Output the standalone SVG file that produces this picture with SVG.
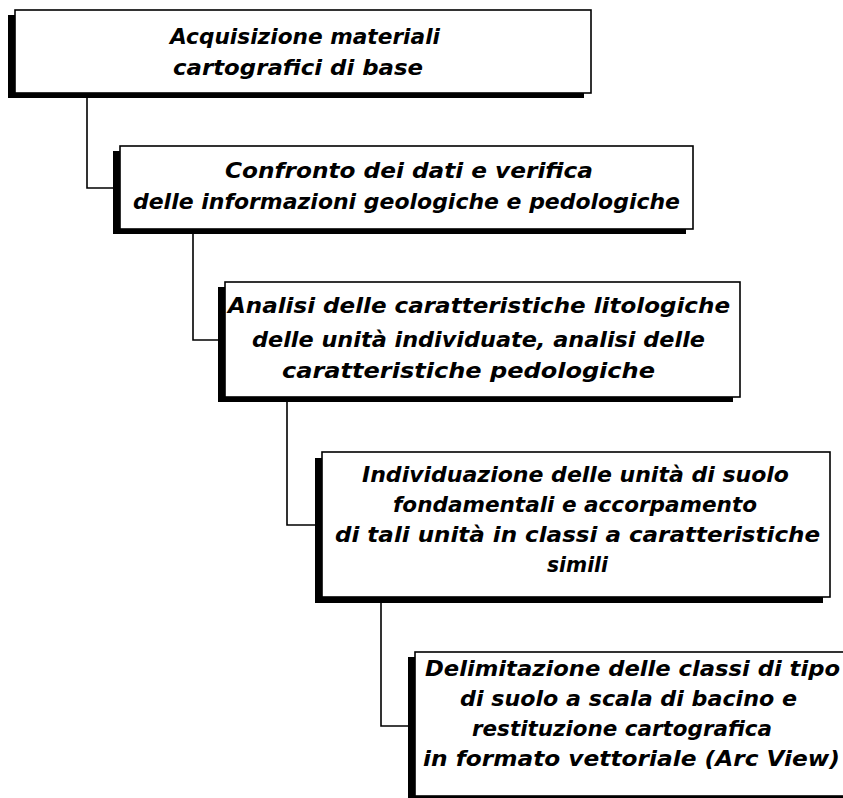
<svg xmlns="http://www.w3.org/2000/svg" width="843" height="798" viewBox="0 0 843 798">
<style>
.shadow{fill:#000;}
.box{fill:#fff;stroke:#000;stroke-width:1.6;}
.lbl{font-family:"DejaVu Sans","Liberation Sans",sans-serif;font-style:italic;font-weight:bold;font-size:22px;fill:#000;text-anchor:middle;}
.conn{fill:none;stroke:#000;stroke-width:1.6;}
</style>
<rect width="843" height="798" fill="#fff"/>
<g id="connectors">
<polyline class="conn" points="87,98 87,188 113,188"/>
<polyline class="conn" points="193,234 193,340 218,340"/>
<polyline class="conn" points="287,402 287,525 315,525"/>
<polyline class="conn" points="381,602 381,726 408,726"/>
</g>
<g id="n1">
<rect class="shadow" x="8" y="15" width="576" height="83"/>
<rect class="box" x="15" y="10" width="576" height="83"/>
<text class="lbl" x="305" y="44" textLength="270" lengthAdjust="spacingAndGlyphs">Acquisizione materiali</text>
<text class="lbl" x="298" y="75" textLength="250" lengthAdjust="spacingAndGlyphs">cartografici di base</text>
</g>
<g id="n2">
<rect class="shadow" x="113" y="151" width="573" height="83"/>
<rect class="box" x="120" y="146" width="573" height="83"/>
<text class="lbl" x="409" y="178" textLength="368" lengthAdjust="spacingAndGlyphs">Confronto dei dati e verifica</text>
<text class="lbl" x="406.5" y="209" textLength="547" lengthAdjust="spacingAndGlyphs">delle informazioni geologiche e pedologiche</text>
</g>
<g id="n3">
<rect class="shadow" x="218" y="287" width="515" height="115"/>
<rect class="box" x="225" y="282" width="515" height="115"/>
<text class="lbl" x="479" y="313" textLength="502" lengthAdjust="spacingAndGlyphs">Analisi delle caratteristiche litologiche</text>
<text class="lbl" x="478.5" y="347" textLength="453" lengthAdjust="spacingAndGlyphs">delle unità individuate, analisi delle</text>
<text class="lbl" x="468.5" y="378" textLength="373" lengthAdjust="spacingAndGlyphs">caratteristiche pedologiche</text>
</g>
<g id="n4">
<rect class="shadow" x="315" y="458" width="508" height="145"/>
<rect class="box" x="322" y="452" width="508" height="145"/>
<text class="lbl" x="575.5" y="482" textLength="427" lengthAdjust="spacingAndGlyphs">Individuazione delle unità di suolo</text>
<text class="lbl" x="575" y="512" textLength="364" lengthAdjust="spacingAndGlyphs">fondamentali e accorpamento</text>
<text class="lbl" x="577.5" y="542" textLength="485" lengthAdjust="spacingAndGlyphs">di tali unità in classi a caratteristiche</text>
<text class="lbl" x="577.5" y="572" textLength="61" lengthAdjust="spacingAndGlyphs">simili</text>
</g>
<g id="n5">
<rect class="shadow" x="408" y="657" width="440" height="144"/>
<rect class="box" x="415" y="652" width="440" height="144"/>
<text class="lbl" x="632.5" y="676" textLength="415" lengthAdjust="spacingAndGlyphs">Delimitazione delle classi di tipo</text>
<text class="lbl" x="628.5" y="706" textLength="337" lengthAdjust="spacingAndGlyphs">di suolo a scala di bacino e</text>
<text class="lbl" x="622" y="736" textLength="300" lengthAdjust="spacingAndGlyphs">restituzione cartografica</text>
<text class="lbl" x="631.5" y="766" textLength="417" lengthAdjust="spacingAndGlyphs">in formato vettoriale (Arc View)</text>
</g>
</svg>
